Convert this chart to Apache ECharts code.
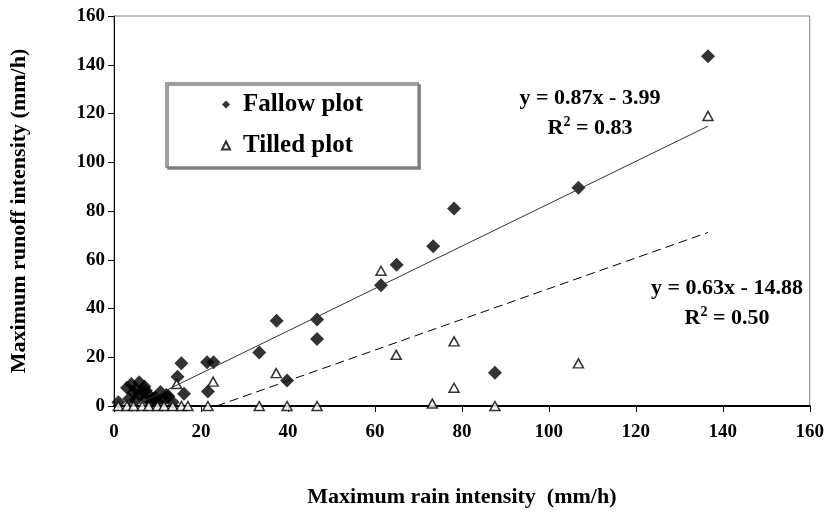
<!DOCTYPE html>
<html>
<head>
<meta charset="utf-8">
<script src="https://cdn.jsdelivr.net/npm/echarts@6/dist/echarts.min.js"></script>
<style>
html,body{margin:0;padding:0;background:#fff;}
#chart{width:827px;height:513px;}
</style>
</head>
<body>
<div id="chart"></div>
<script>
// ---- data ----
const fallowX = [1.0, 3.0, 3.5, 4.0, 4.5, 5.0, 5.0, 5.8, 6.0, 6.5, 7.0, 7.3, 7.5, 8.0, 8.5, 9.0, 9.5, 10.0, 10.7, 11.5, 12.0, 12.5, 13.5, 14.6, 15.5, 16.1, 21.4, 22.9, 21.6, 33.4, 37.4, 39.8, 46.7, 46.7, 61.4, 65.0, 73.4, 78.2, 87.6, 106.8, 136.6];
const fallowY = [1.5, 7.5, 3.0, 9.0, 5.5, 2.5, 7.0, 9.7, 4.5, 6.0, 8.0, 6.4, 3.0, 4.5, 1.5, 3.0, 3.5, 2.0, 5.7, 2.5, 4.5, 4.0, 1.5, 12.0, 17.5, 5.0, 18.0, 18.0, 6.0, 22.0, 35.0, 10.5, 35.5, 27.5, 49.5, 58.0, 65.5, 81.0, 13.6, 89.5, 143.5];
const tilledX = [1.0, 3.0, 4.5, 6.5, 8.0, 10.0, 11.5, 13.5, 15.5, 17.0, 14.4, 21.6, 22.8, 33.4, 37.3, 39.8, 46.7, 61.4, 64.9, 73.2, 78.2, 78.2, 87.6, 106.8, 136.6];
const tilledY = [0, 0, 0, 0, 0, 0, 0, 0, 0, 0, 9.0, 0, 10.0, 0, 13.5, 0, 0, 55.5, 21.0, 1.0, 26.5, 7.5, 0, 17.5, 119.0];
// trend lines (end points, matching the shown equations)
const fallowTrend = [[4.6, 0], [136.6, 114.8]];
const tilledTrend = [[23.6, 0], [136.6, 71.2]];
const fallowEq = ['y = 0.87x - 3.99', '0.83'];
const tilledEq = ['y = 0.63x - 14.88', '0.50'];
const seriesNames = ['Fallow plot', 'Tilled plot'];
const xTitle = 'Maximum rain intensity  (mm/h)';
const yTitle = 'Maximum runoff intensity (mm/h)';

const FONT = '"Liberation Serif", "Times New Roman", serif';
const pairs = (xs, ys) => xs.map((x, i) => [x, ys[i]]);

function eqGraphic(lines, cx, y1, y2) {
  return [
    { type: 'text', x: cx, y: y1, z: 100,
      style: { text: lines[0], font: 'bold 22px ' + FONT, fill: '#000', textAlign: 'center', textVerticalAlign: 'middle' } },
    { type: 'text', x: cx, y: y2, z: 100,
      style: { text: '{r|R}{s|2}{r| = ' + lines[1] + '}', textAlign: 'center', textVerticalAlign: 'middle',
        rich: { r: { fontFamily: FONT, fontWeight: 'bold', fontSize: 22, fill: '#000', lineHeight: 25 },
                s: { fontFamily: FONT, fontWeight: 'bold', fontSize: 14, fill: '#000', verticalAlign: 'top', lineHeight: 25 } } } }
  ];
}

const chart = echarts.init(document.getElementById('chart'), null, { renderer: 'canvas' });
chart.setOption({
  animation: false,
  backgroundColor: '#fff',
  grid: { left: 113, right: 13, top: 16, bottom: 97, show: true, borderColor: '#808080', borderWidth: 1 },
  xAxis: {
    type: 'value', min: 0, max: 160, interval: 20,
    name: xTitle, nameLocation: 'middle', nameGap: 80,
    nameTextStyle: { fontFamily: FONT, fontWeight: 'bold', fontSize: 22, color: '#000' },
    axisLine: { lineStyle: { color: '#000', width: 2 } },
    axisTick: { show: true, inside: false, length: 6, lineStyle: { color: '#000' } },
    axisLabel: { fontFamily: FONT, fontWeight: 'bold', fontSize: 19, color: '#000', margin: 17 },
    splitLine: { show: false }
  },
  yAxis: {
    type: 'value', min: 0, max: 160, interval: 20,
    name: yTitle, nameLocation: 'middle', nameGap: 84, nameRotate: 90,
    nameTextStyle: { fontFamily: FONT, fontWeight: 'bold', fontSize: 22, color: '#000' },
    axisLine: { show: true, lineStyle: { color: '#000', width: 1 } },
    axisTick: { show: true, inside: false, length: 6, lineStyle: { color: '#000' } },
    axisLabel: { fontFamily: FONT, fontWeight: 'bold', fontSize: 19, color: '#000', margin: 9 },
    splitLine: { show: false }
  },
  legend: {
    orient: 'vertical', left: 166, top: 83,
    padding: [8, 55, 8, 55],
    itemWidth: 8, itemHeight: 8, itemGap: 14,
    backgroundColor: '#fff', borderColor: '#808080', borderWidth: 1.5,
    shadowColor: '#808080', shadowOffsetX: 2, shadowOffsetY: 2, shadowBlur: 0,
    textStyle: { fontFamily: FONT, fontWeight: 'bold', fontSize: 25, color: '#000', lineHeight: 27, padding: [0, 0, 0, 8] },
    data: [
      { name: seriesNames[0], icon: 'diamond' },
      { name: seriesNames[1], icon: 'triangle' }
    ]
  },
  series: [
    { name: seriesNames[0], type: 'scatter', symbol: 'diamond', symbolSize: 14, z: 2,
      itemStyle: { color: '#000' }, data: pairs(fallowX, fallowY) },
    { name: seriesNames[1], type: 'scatter', symbol: 'triangle', symbolSize: [10, 9], z: 3,
      itemStyle: { color: '#fff', borderColor: '#000', borderWidth: 1.5 }, data: pairs(tilledX, tilledY) },
    { name: 'fallowTrend', type: 'line', data: fallowTrend, symbol: 'none', z: 4, silent: true,
      lineStyle: { color: '#333', width: 1, type: 'solid' } },
    { name: 'tilledTrend', type: 'line', data: tilledTrend, symbol: 'none', z: 4, silent: true,
      lineStyle: { color: '#000', width: 1, type: [9, 5] } }
  ],
  graphic: [].concat(eqGraphic(fallowEq, 590, 98, 128), eqGraphic(tilledEq, 727, 288, 318))
});
</script>
</body>
</html>
